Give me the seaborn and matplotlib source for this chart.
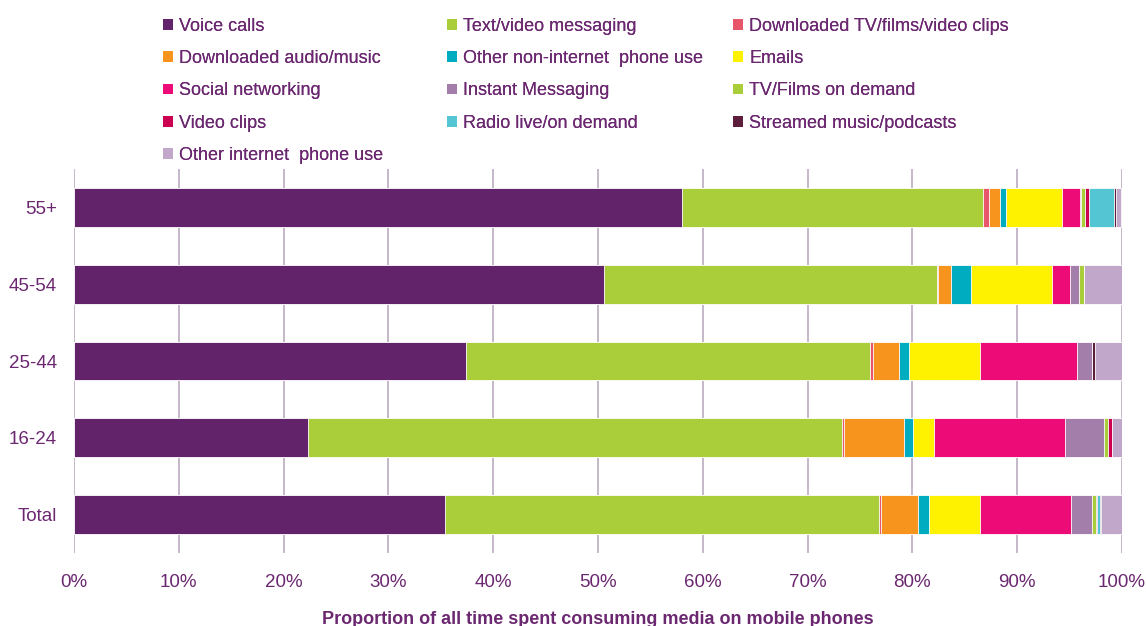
import matplotlib
matplotlib.use("Agg")
import matplotlib.pyplot as plt
import seaborn as sns
import numpy as np
import pandas as pd

sns.set_theme(style="white")
plt.rcParams["font.family"] = ["Liberation Sans", "DejaVu Sans"]

# Age groups, top to bottom
groups = ["55+", "45-54", "25-44", "16-24", "Total"]

# Share of mobile media time (%) per activity, one value per age group
voice_calls = [58.0, 50.6, 37.4, 22.3, 35.4]
text_video_messaging = [28.7, 31.7, 38.6, 51.0, 41.4]
downloaded_tv = [0.6, 0.1, 0.25, 0.22, 0.22]
downloaded_audio = [1.1, 1.33, 2.5, 5.7, 3.47]
other_non_internet = [0.5, 1.9, 0.9, 0.8, 1.05]
emails = [5.35, 7.7, 6.8, 2.0, 4.9]
social_networking = [1.7, 1.7, 9.3, 12.55, 8.7]
instant_messaging = [0.15, 0.9, 1.34, 3.7, 2.0]
tv_films_on_demand = [0.4, 0.45, 0.0, 0.41, 0.41]
video_clips = [0.35, 0.0, 0.0, 0.41, 0.1]
radio = [2.4, 0.0, 0.0, 0.0, 0.25]
streamed_music = [0.13, 0.0, 0.29, 0.0, 0.1]
other_internet = [0.55, 3.6, 2.6, 0.92, 2.0]

series_names = [
    "Voice calls", "Text/video messaging", "Downloaded TV/films/video clips",
    "Downloaded audio/music", "Other non-internet  phone use", "Emails",
    "Social networking", "Instant Messaging", "TV/Films on demand",
    "Video clips", "Radio live/on demand", "Streamed music/podcasts",
    "Other internet  phone use",
]
series_values = [
    voice_calls, text_video_messaging, downloaded_tv, downloaded_audio,
    other_non_internet, emails, social_networking, instant_messaging,
    tv_films_on_demand, video_clips, radio, streamed_music, other_internet,
]
series_colors = [
    "#62236A", "#A9CE3A", "#E8566B", "#F7941D", "#00ACC0", "#FFF200",
    "#ED0C77", "#A47EAA", "#A9CE3A", "#CC0051", "#54C5D2", "#5C1E3A",
    "#C1A7CA",
]

x_ticks = [0, 10, 20, 30, 40, 50, 60, 70, 80, 90, 100]
x_tick_labels = [f"{t}%" for t in x_ticks]
x_title = "Proportion of all time spent consuming media on mobile phones"

text_color = "#6B2870"
grid_color = "#B5A6BA"

values = pd.DataFrame(dict(zip(series_names, series_values)), index=groups)
cumulative = values.cumsum(axis=1)

fig = plt.figure(figsize=(11.46, 6.26), dpi=100)
ax = fig.add_axes([74 / 1146, 1 - 553 / 626, (1122 - 74) / 1146, (553 - 169) / 626])

# Stacked bars: draw cumulative totals from the outermost segment inwards
handles = {}
for name, color in reversed(list(zip(series_names, series_colors))):
    df = pd.DataFrame({"group": groups, "value": cumulative[name].values})
    sns.barplot(data=df, x="value", y="group", order=groups, orient="h",
                color=color, saturation=1, width=0.507, edgecolor="white",
                linewidth=0.6, ax=ax, zorder=3)
    handles[name] = plt.Rectangle((0, 0), 1, 1, facecolor=color, edgecolor="none")

ax.set_xlim(0, 100)
ax.set_ylim(4.5, -0.5)
ax.set_xticks(x_ticks)
ax.set_xticklabels(x_tick_labels)
ax.xaxis.grid(True, color=grid_color, linewidth=1.1, zorder=0)
ax.yaxis.grid(False)
ax.set_axisbelow(True)
for side in ["top", "right", "bottom", "left"]:
    ax.spines[side].set_visible(False)
ax.tick_params(axis="x", length=0, pad=15, labelsize=13.5, labelcolor=text_color)
ax.tick_params(axis="y", length=0, pad=12.2, labelsize=13.5, labelcolor=text_color)
ax.set_ylabel("")
ax.set_xlabel(x_title, fontsize=13, fontweight="bold", color=text_color, labelpad=14.5)

# Three-column legend, filled row by row
col_x = [163 / 1146, 447 / 1146, 733 / 1146]
for c in range(3):
    names = series_names[c::3]
    leg = fig.legend([handles[n] for n in names], names, loc="upper left",
                     bbox_to_anchor=(col_x[c], 1 - 18 / 626), frameon=False,
                     fontsize=13, handlelength=0.55, handleheight=0.55,
                     handletextpad=0.35, labelspacing=0.84, borderpad=0,
                     borderaxespad=0, labelcolor=text_color)
    fig.add_artist(leg)

fig.savefig("out.png", dpi=100)
